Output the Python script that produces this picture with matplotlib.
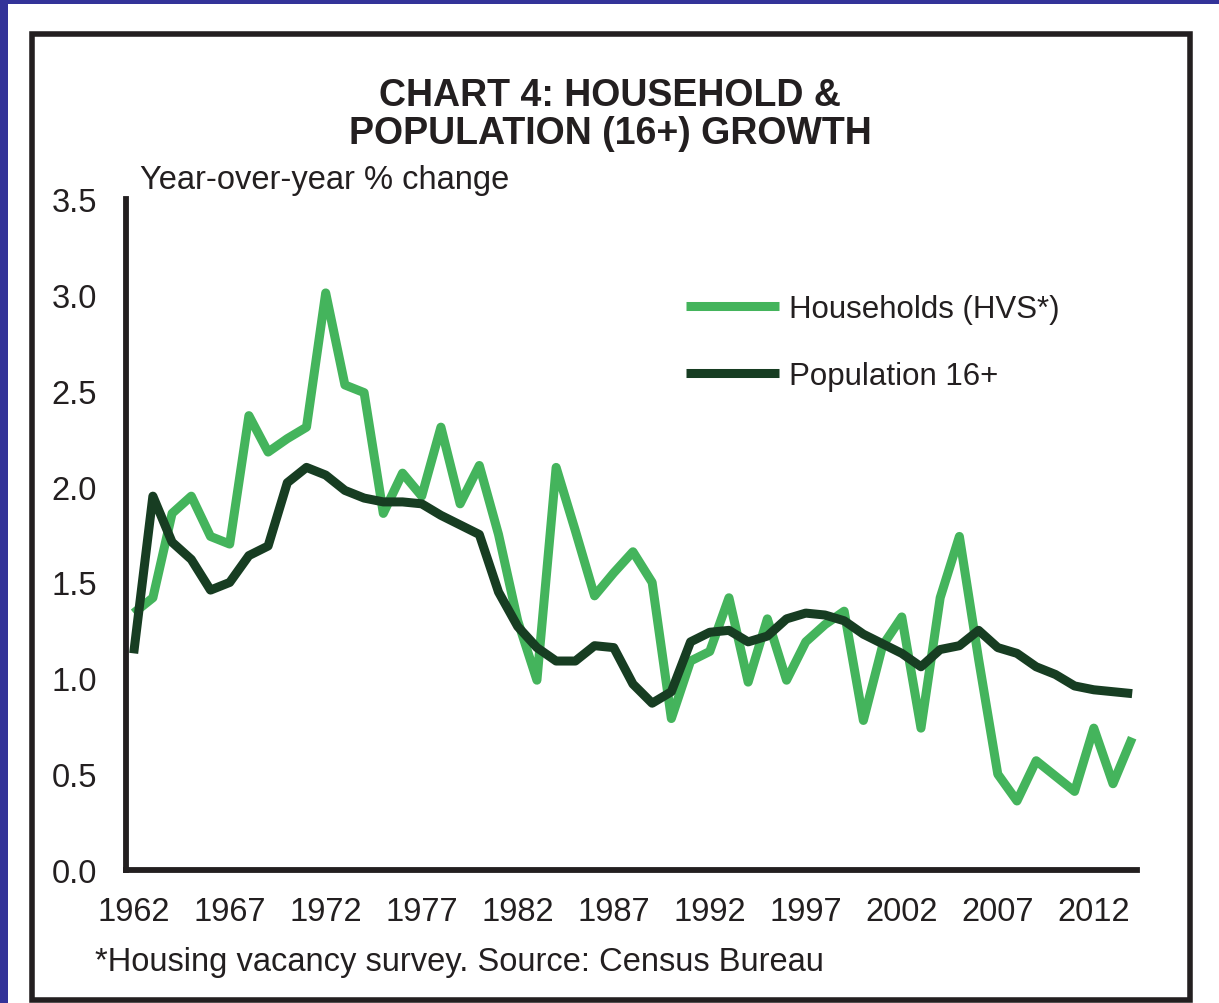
import numpy as np
import matplotlib
matplotlib.use("Agg")
import matplotlib.pyplot as plt
from matplotlib.patches import Rectangle

# -----------------------------
# DATA
# -----------------------------
years = list(range(1962, 2015))

households = [
    1.34, 1.42, 1.86, 1.95, 1.74, 1.70, 2.37, 2.18, 2.25, 2.31,   # 1962-1971
    3.01, 2.53, 2.49, 1.86, 2.07, 1.95, 2.31, 1.91, 2.11, 1.75,   # 1972-1981
    1.30, 0.99, 2.10, 1.77, 1.43, 1.55, 1.66, 1.50, 0.79, 1.09,   # 1982-1991
    1.14, 1.42, 0.98, 1.31, 0.99, 1.19, 1.28, 1.35, 0.78, 1.17,   # 1992-2001
    1.32, 0.74, 1.42, 1.74, 1.10, 0.50, 0.36, 0.57, 0.49, 0.41,   # 2002-2011
    0.74, 0.45, 0.69,                                             # 2012-2014
]

population = [
    1.13, 1.95, 1.71, 1.62, 1.46, 1.50, 1.64, 1.69, 2.02, 2.10,   # 1962-1971
    2.06, 1.98, 1.94, 1.92, 1.92, 1.91, 1.85, 1.80, 1.75, 1.45,   # 1972-1981
    1.27, 1.16, 1.09, 1.09, 1.17, 1.16, 0.97, 0.87, 0.93, 1.19,   # 1982-1991
    1.24, 1.25, 1.19, 1.22, 1.31, 1.34, 1.33, 1.30, 1.23, 1.18,   # 1992-2001
    1.13, 1.06, 1.15, 1.17, 1.25, 1.16, 1.13, 1.06, 1.02, 0.96,   # 2002-2011
    0.94, 0.93, 0.92,                                             # 2012-2014
]

x_ticks = list(range(1962, 2013, 5))
y_ticks = [0.0, 0.5, 1.0, 1.5, 2.0, 2.5, 3.0, 3.5]

GREEN = "#44b45c"
DARK = "#173d22"
INK = "#231f20"

# -----------------------------
# FIGURE
# -----------------------------
plt.rcParams["font.family"] = ["Liberation Sans", "DejaVu Sans"]
fig = plt.figure(figsize=(12.19, 10.04), dpi=100)

# blue page edge + black box around the chart
fig.patches.append(Rectangle((0, 1 - 5 / 1004), 1, 5 / 1004, transform=fig.transFigure,
                             facecolor="#333399", edgecolor="none"))
fig.patches.append(Rectangle((0, 0), 8 / 1219, 1, transform=fig.transFigure,
                             facecolor="#333399", edgecolor="none"))
fig.patches.append(Rectangle((32 / 1219, 3 / 1004), 1158 / 1219, 966 / 1004,
                             transform=fig.transFigure, facecolor="none",
                             edgecolor=INK, linewidth=4))

ax = fig.add_axes([126 / 1219, 1 - 871 / 1004, 1011 / 1219, 671 / 1004])

ax.plot(years, households, color=GREEN, lw=6.5, solid_joinstyle="round",
        solid_capstyle="butt", label="Households (HVS*)")
ax.plot(years, population, color=DARK, lw=6.5, solid_joinstyle="round",
        solid_capstyle="butt", label="Population 16+")

ax.set_xlim(1961.6, 2014.25)
ax.set_ylim(0, 3.5)
ax.set_xticks(x_ticks)
ax.set_yticks(y_ticks)
ax.set_yticklabels([f"{v:.1f}" for v in y_ticks])
ax.tick_params(length=0, labelsize=23.5, colors=INK)
ax.tick_params(axis="y", pad=21)
ax.tick_params(axis="x", pad=19)

for s in ["top", "right"]:
    ax.spines[s].set_visible(False)
for s in ["left", "bottom"]:
    ax.spines[s].set_linewidth(4.2)
    ax.spines[s].set_color(INK)

leg = ax.legend(loc="upper left", bbox_to_anchor=(0.542, 0.8775), frameon=False,
                fontsize=22.5, handlelength=2.95, handletextpad=0.32, labelspacing=1.2,
                borderaxespad=0)
for t in leg.get_texts():
    t.set_color(INK)

# -----------------------------
# TEXT
# -----------------------------
fig.text(610 / 1219, 1 - 115 / 1004, "CHART 4: HOUSEHOLD &\nPOPULATION (16+) GROWTH",
         ha="center", va="center", fontsize=27, fontweight="bold", color=INK,
         linespacing=1.1)
fig.text(140 / 1219, 1 - 181 / 1004, "Year-over-year % change", ha="left", va="center",
         fontsize=23.5, color=INK)
fig.text(95 / 1219, 1 - 963 / 1004, "*Housing vacancy survey. Source: Census Bureau",
         ha="left", va="center", fontsize=23.5, color=INK)

fig.savefig("out.png", dpi=100)
